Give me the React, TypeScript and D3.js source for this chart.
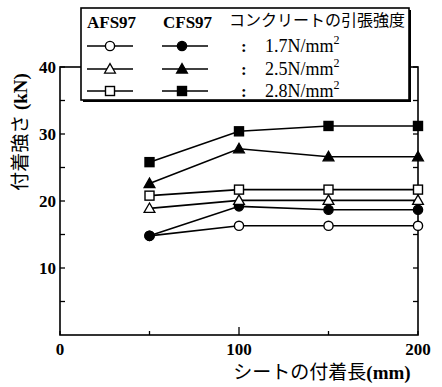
import React from "react";
import * as d3 from "d3";

const xValues = [50, 100, 150, 200];
const seriesNames = ["AFS97 1.7", "CFS97 1.7", "AFS97 2.5", "CFS97 2.5", "AFS97 2.8", "CFS97 2.8"];
const seriesMarkers = ["circle", "circle", "triangle", "triangle", "square", "square"];
const seriesFilled = [false, true, false, true, false, true];
const afs17 = [14.8, 16.3, 16.3, 16.3];
const cfs17 = [14.8, 19.2, 18.7, 18.7];
const afs25 = [18.9, 20.1, 20.1, 20.1];
const cfs25 = [22.6, 27.8, 26.6, 26.6];
const afs28 = [20.8, 21.7, 21.7, 21.7];
const cfs28 = [25.8, 30.4, 31.2, 31.2];
const seriesValues = [afs17, cfs17, afs25, cfs25, afs28, cfs28];
const yTicks = [10, 20, 30, 40];
const yMinorTicks = [5, 15, 25, 35];
const xTicks = [0, 100, 200];
const xMinorTicks = [50, 150];
const legendStrengths = ["1.7N/mm", "2.5N/mm", "2.8N/mm"];

const W = 442, H = 387;
const x = d3.scaleLinear().domain([0, 200]).range([60, 418]);
const y = d3.scaleLinear().domain([0, 40]).range([335, 67]);

function Marker({ type, filled, cx, cy }: { type: string; filled: boolean; cx: number; cy: number }) {
  const fill = filled ? "#000" : "#fff";
  if (type === "circle") return <circle cx={cx} cy={cy} r={4.6} fill={fill} stroke="#000" strokeWidth={1.4} />;
  if (type === "square") return <rect x={cx - 4.5} y={cy - 4.5} width={9} height={9} fill={fill} stroke="#000" strokeWidth={1.4} />;
  const s = 5.4;
  return <path d={`M${cx},${cy - s} L${cx + s},${cy + s * 0.75} L${cx - s},${cy + s * 0.75} Z`} fill={fill} stroke="#000" strokeWidth={1.3} />;
}

export default function App() {
  const line = d3.line<number>().x((_, i) => x(xValues[i])).y((d) => y(d));
  const serif = "'Liberation Serif', 'DejaVu Serif', serif";
  const jp = "'Noto Sans CJK JP', sans-serif";
  const legX = 81, legY = 8, legW = 328, legH = 92;
  const rows = [46, 69, 91];
  return (
    <svg width={W} height={H} style={{ position: "absolute", left: 0, top: 0 }}>
      <rect width={W} height={H} fill="#fff" />
      {/* frame */}
      <rect x={x(0)} y={y(40)} width={x(200) - x(0)} height={y(0) - y(40)} fill="none" stroke="#000" strokeWidth={1.6} />
      {/* y ticks */}
      {[...yTicks, ...yMinorTicks].map((t) => (
        <g key={"yt" + t}>
          <line x1={x(0)} x2={x(0) + 5} y1={y(t)} y2={y(t)} stroke="#000" strokeWidth={1.3} />
          <line x1={x(200)} x2={x(200) - 5} y1={y(t)} y2={y(t)} stroke="#000" strokeWidth={1.3} />
        </g>
      ))}
      {[...xTicks, ...xMinorTicks].map((t) => (
        <line key={"xt" + t} x1={x(t)} x2={x(t)} y1={y(0)} y2={y(0) - (t === 100 ? 8 : 4)} stroke="#000" strokeWidth={1.3} />
      ))}
      {yTicks.map((t) => (
        <text key={"yl" + t} x={x(0) - 4} y={y(t)} dy="0.35em" textAnchor="end" fontFamily={serif} fontWeight="bold" fontSize={17}>{t}</text>
      ))}
      {xTicks.map((t) => (
        <text key={"xl" + t} x={x(t)} y={355} textAnchor="middle" fontFamily={serif} fontWeight="bold" fontSize={17}>{t}</text>
      ))}
      {/* axis titles */}
      <text transform={`translate(27,132) rotate(-90)`} textAnchor="middle" fontSize={19}>
        <tspan fontFamily={jp}>付着強さ</tspan>
        <tspan fontFamily={serif} fontWeight="bold"> (kN)</tspan>
      </text>
      <text x={322} y={379} textAnchor="middle" fontSize={19}>
        <tspan fontFamily={jp}>シートの付着長</tspan>
        <tspan fontFamily={serif} fontWeight="bold" fontSize={19}>(mm)</tspan>
      </text>
      {/* series */}
      {seriesValues.map((vals, si) => (
        <g key={seriesNames[si]}>
          <path d={line(vals) || ""} fill="none" stroke="#000" strokeWidth={1.6} />
          {vals.map((v, i) => (
            <Marker key={i} type={seriesMarkers[si]} filled={seriesFilled[si]} cx={x(xValues[i])} cy={y(v)} />
          ))}
        </g>
      ))}
      {/* legend */}
      <rect x={legX + 2} y={legY + 2} width={legW} height={legH} fill="#000" />
      <rect x={legX} y={legY} width={legW} height={legH} fill="#fff" stroke="#000" strokeWidth={1.6} />
      <text x={87} y={28} fontFamily={serif} fontWeight="bold" fontSize={17}>AFS97</text>
      <text x={163} y={28} fontFamily={serif} fontWeight="bold" fontSize={17}>CFS97</text>
      <text x={229} y={26} fontFamily={jp} fontSize={16} textLength={176} lengthAdjust="spacingAndGlyphs">コンクリートの引張強度</text>
      {legendStrengths.map((s, r) => (
        <g key={s}>
          <line x1={87} x2={133} y1={rows[r]} y2={rows[r]} stroke="#000" strokeWidth={1.6} />
          <Marker type={seriesMarkers[r * 2]} filled={false} cx={110} cy={rows[r]} />
          <line x1={162} x2={208} y1={rows[r]} y2={rows[r]} stroke="#000" strokeWidth={1.6} />
          <Marker type={seriesMarkers[r * 2 + 1]} filled={true} cx={182} cy={rows[r]} />
          <text x={241} y={rows[r] + 6} fontFamily={serif} fontWeight="bold" fontSize={17}>:</text>
          <text x={265} y={rows[r] + 6} fontFamily={serif} fontSize={18}>
            {s}
            <tspan dy={-8} fontSize={12}>2</tspan>
          </text>
        </g>
      ))}
    </svg>
  );
}
